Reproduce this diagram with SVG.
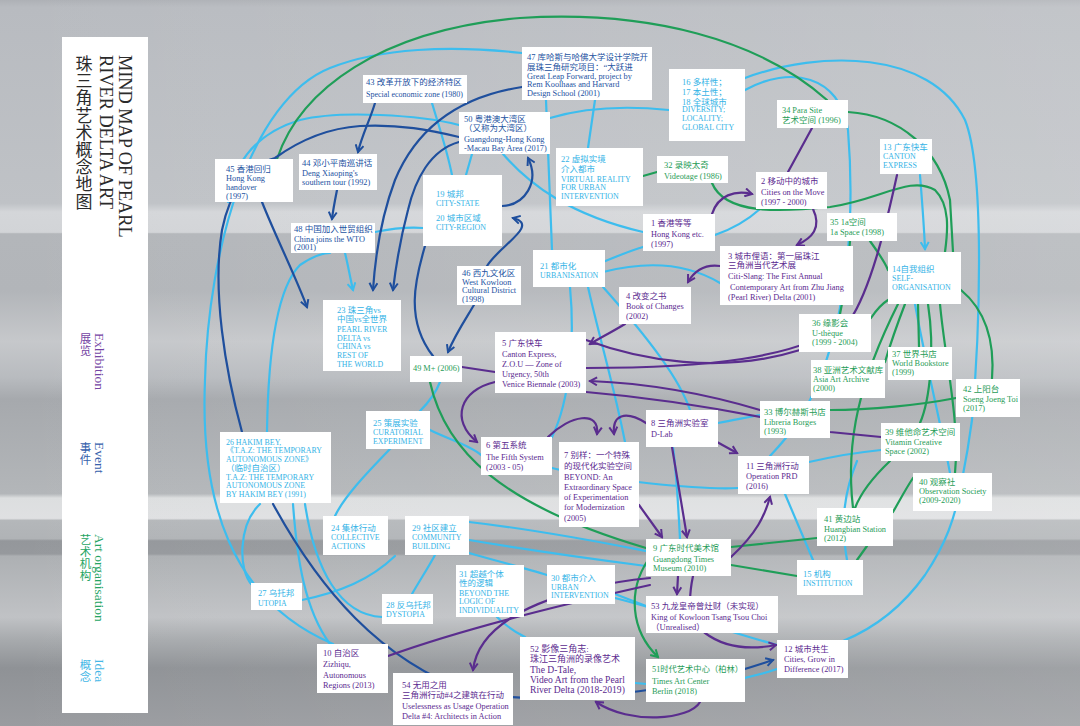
<svg xmlns="http://www.w3.org/2000/svg" width="1080" height="726" viewBox="0 0 1080 726">
<defs>
<linearGradient id="bg" x1="0" y1="0" x2="0" y2="1">
<stop offset="0" stop-color="#aeb1b6"/>
<stop offset="0.01" stop-color="#b8bbc0"/>
<stop offset="0.28" stop-color="#bfc2c6"/>
<stop offset="0.292" stop-color="#d4d6d9"/>
<stop offset="0.32" stop-color="#d2d4d7"/>
<stop offset="0.322" stop-color="#b3b6ba"/>
<stop offset="0.40" stop-color="#b2b5b9"/>
<stop offset="0.47" stop-color="#c6c8cb"/>
<stop offset="0.52" stop-color="#b8bbbf"/>
<stop offset="0.55" stop-color="#a6a9ad"/>
<stop offset="0.68" stop-color="#b3b6b9"/>
<stop offset="0.686" stop-color="#dcdedf"/>
<stop offset="0.714" stop-color="#dfe0e2"/>
<stop offset="0.717" stop-color="#b4b7ba"/>
<stop offset="0.742" stop-color="#b0b3b6"/>
<stop offset="0.745" stop-color="#94979b"/>
<stop offset="0.763" stop-color="#96999d"/>
<stop offset="0.766" stop-color="#adb0b3"/>
<stop offset="0.85" stop-color="#c0c2c5"/>
<stop offset="0.88" stop-color="#a8abae"/>
<stop offset="0.92" stop-color="#8f9296"/>
<stop offset="1" stop-color="#9a9ca0"/>
</linearGradient>
<linearGradient id="sheen" x1="0" y1="0" x2="1" y2="0">
<stop offset="0" stop-color="#ffffff" stop-opacity="0"/>
<stop offset="1" stop-color="#ffffff" stop-opacity="0.15"/>
</linearGradient>
<marker id="mp" viewBox="-1 -1 10 10" refX="7" refY="4" markerWidth="10" markerHeight="10" markerUnits="userSpaceOnUse" orient="auto"><path d="M0,0 L7,4 L0,8" fill="none" stroke="#5a2d8e" stroke-width="2"/></marker>
<marker id="md" viewBox="-1 -1 10 10" refX="7" refY="4" markerWidth="10" markerHeight="10" markerUnits="userSpaceOnUse" orient="auto"><path d="M0,0 L7,4 L0,8" fill="none" stroke="#1f4f9d" stroke-width="2"/></marker>
<marker id="mg" viewBox="-1 -1 10 10" refX="7" refY="4" markerWidth="10" markerHeight="10" markerUnits="userSpaceOnUse" orient="auto"><path d="M0,0 L7,4 L0,8" fill="none" stroke="#1f9e58" stroke-width="2"/></marker>
<marker id="ml" viewBox="-1 -1 10 10" refX="7" refY="4" markerWidth="10" markerHeight="10" markerUnits="userSpaceOnUse" orient="auto"><path d="M0,0 L7,4 L0,8" fill="none" stroke="#3dbdee" stroke-width="2"/></marker>
</defs>
<style>
.box{fill:#ffffff}
.t{font-family:"Liberation Serif","Noto Sans CJK SC",serif;font-size:8.3px}
.h{font-size:8.5px}
.u{font-size:7.9px}
.pu{fill:#5b2a8f}.db{fill:#23529f}.gr{fill:#1f9c57}.lb{fill:#34b3e6}
.c{fill:none;stroke-width:2.2;stroke-linecap:round}
.cp{stroke:#5a2d8e}.cd{stroke:#1f4f9d}.cg{stroke:#1f9e58}.cl{stroke:#3dbdee}
.ttl{font-family:"Liberation Serif",serif;font-size:18.3px;fill:#2b2b2b}
.cjt{font-family:"Noto Sans CJK SC",sans-serif;font-size:17px;fill:#2b2b2b;writing-mode:vertical-rl;letter-spacing:0.2px}
.lg{font-family:"Liberation Serif",serif;font-size:13.5px}
.lgc{font-family:"Noto Sans CJK SC",sans-serif;font-size:11.5px;writing-mode:vertical-rl;letter-spacing:0.5px}
</style>
<rect x="0" y="0" width="1080" height="726" fill="url(#bg)"/>
<rect x="0" y="0" width="1080" height="726" fill="url(#sheen)"/>

<g id="panel">
<rect x="62" y="37" width="86" height="676" fill="#ffffff"/>
<text class="ttl" transform="translate(118.5,55) rotate(90)">MIND MAP OF PEARL</text>
<text class="ttl" transform="translate(99.5,55) rotate(90)">RIVER DELTA ART</text>
<text class="cjt" x="84" y="55">珠三角艺术概念地图</text>
<text class="lg" fill="#7444a3" transform="translate(95,333) rotate(90)">Exhibition</text>
<text class="lgc" fill="#7444a3" x="85.5" y="333">展览</text>
<text class="lg" fill="#3560ab" transform="translate(95,442) rotate(90)">Event</text>
<text class="lgc" fill="#3560ab" x="85.5" y="442">事件</text>
<text class="lg" fill="#25a463" transform="translate(95,534) rotate(90)">Art organisation</text>
<text class="lgc" fill="#25a463" x="85.5" y="534">艺术机构</text>
<text class="lg" fill="#45b7e6" transform="translate(95,659) rotate(90)">Idea</text>
<text class="lgc" fill="#45b7e6" x="85.5" y="659">概念</text>
</g>

<g id="connectors">
<!-- light blue -->
<path class="c cl" d="M333,644 C230,600 200,500 205,380 C208,250 250,100 330,68 C380,48 450,45 522,53"/>
<path class="c cl" d="M228,202 C232,170 250,135 300,120 C340,110 420,115 459,125"/>
<path class="c cl" d="M550,118 C590,106 630,106 669,110"/>
<path class="c cl" d="M267,432 C268,360 275,290 300,265 C315,255 325,253 330,253"/>
<path class="c cl" d="M432,103 C440,130 447,150 452,175"/>
<path class="c cl" d="M466,175 L472,154"/>
<path class="c cl" d="M503,154 C530,185 570,215 643,232"/>
<path class="c cl" d="M546,100 C548,150 550,200 552,250"/>
<path class="c cl" d="M595,100 L588,148"/>
<path class="c cl" d="M345,253 C348,265 350,277 353,290" marker-end="url(#ml)"/>
<path class="c cl" d="M375,232 C395,228 410,227 423,228"/>
<path class="c cl" d="M603,262 C620,255 632,250 643,247"/>
<path class="c cl" d="M603,272 C650,260 690,265 720,283"/>
<path class="c cl" d="M715,235 C735,228 750,218 760,209"/>
<path class="c cl" d="M745,78 C820,50 930,50 965,120 C985,170 980,330 972,420 C968,450 965,465 962,480 C955,520 945,545 925,575 C900,610 870,630 843,641"/>
<path class="c cl" d="M745,90 C790,65 840,75 848,130 C856,230 845,330 810,400 C795,430 780,445 770,456"/>
<path class="c cl" d="M920,175 C922,200 924,225 925,249" marker-end="url(#ml)"/>
<path class="c cl" d="M915,304 C925,360 940,420 950,473"/>
<path class="c cl" d="M785,494 L813,560"/>
<path class="c cl" d="M552,468 C600,480 700,490 738,488"/>
<path class="c cl" d="M809,462 C840,455 860,452 881,450"/>
<path class="c cl" d="M718,423 C735,420 748,417 760,415"/>
<path class="c cl" d="M570,287 C575,340 570,400 552,437"/>
<path class="c cl" d="M588,287 C600,340 615,390 625,442"/>
<path class="c cl" d="M603,287 C650,340 680,380 690,410"/>
<path class="c cl" d="M673,447 C676,470 678,500 680,539"/>
<path class="c cl" d="M440,382 C435,395 428,403 420,411"/>
<path class="c cl" d="M390,449 C370,470 345,495 335,516"/>
<path class="c cl" d="M430,430 C450,440 470,445 481,455"/>
<path class="c cl" d="M260,504 C238,525 238,570 252,585"/>
<path class="c cl" d="M293,504 C297,560 305,610 330,644"/>
<path class="c cl" d="M305,504 C315,570 340,615 382,617"/>
<path class="c cl" d="M302,600 C340,592 370,580 395,556"/>
<path class="c cl" d="M412,594 C420,580 428,568 435,555"/>
<path class="c cl" d="M469,522 C540,530 600,542 646,551"/>
<path class="c cl" d="M469,540 C540,552 600,560 646,566"/>
<path class="c cl" d="M469,553 C500,562 525,568 547,575"/>
<path class="c cl" d="M615,594 L646,606"/>
<path class="c cl" d="M497,617 C505,625 515,632 525,637"/>
<path class="c cl" d="M615,598 C680,615 740,635 777,645"/>
<path class="c cl" d="M635,683 C700,690 745,680 777,669"/>
<path class="c cl" d="M847,560 C840,520 845,490 857,461"/>
<!-- green -->
<path class="c cg" d="M277,159 C300,90 380,30 520,18 C650,10 760,40 827,100"/>
<path class="c cg" d="M657,172 L643,176"/>
<path class="c cg" d="M712,183 C725,215 780,212 830,207 C880,200 910,175 935,190 C950,205 948,230 945,252"/>
<path class="c cg" d="M848,112 C900,115 940,150 950,200 L953,252"/>
<path class="c cg" d="M850,241 C848,270 845,290 840,314"/>
<path class="c cg" d="M870,241 C880,255 885,262 888,270"/>
<path class="c cg" d="M888,300 C880,305 875,312 871,318"/>
<path class="c cg" d="M918,304 L919,347"/>
<path class="c cg" d="M905,304 C895,330 890,345 885,362"/>
<path class="c cg" d="M961,290 C985,310 995,340 992,379"/>
<path class="c cg" d="M940,304 C945,360 960,420 955,473"/>
<path class="c cg" d="M928,304 C935,350 930,400 920,423"/>
<path class="c cg" d="M898,304 C860,380 845,440 853,508"/>
<path class="c cg" d="M830,410 C870,410 920,405 956,398"/>
<path class="c cg" d="M890,461 C870,480 860,495 855,508"/>
<path class="c cg" d="M893,512 C900,500 905,490 913,478"/>
<path class="c cg" d="M857,560 L867,546"/>
<path class="c cg" d="M731,547 C770,543 800,540 817,538"/>
<path class="c cg" d="M731,565 C760,570 780,573 797,576"/>
<path class="c cg" d="M648,560 C628,590 630,630 658,657" marker-end="url(#mg)"/>
<path class="c cg" d="M430,382 C445,450 500,505 646,548"/>
<!-- dark blue -->
<path class="c cd" d="M375,103 C370,120 362,135 358,152" marker-end="url(#md)"/>
<path class="c cd" d="M337,190 C335,200 333,210 332,219" marker-end="url(#md)"/>
<path class="c cd" d="M262,202 C275,235 295,275 307,307" marker-end="url(#md)"/>
<path class="c cd" d="M242,432 C225,370 212,290 222,230 C230,190 250,165 275,158 C300,140 330,128 360,126 C400,124 430,130 459,137"/>
<path class="c cd" d="M522,87 C470,95 420,120 395,180 C380,220 375,260 373,290" marker-end="url(#md)"/>
<path class="c cd" d="M459,142 C430,150 415,180 408,210 C400,240 396,265 393,290" marker-end="url(#md)"/>
<path class="c cd" d="M474,305 C465,320 455,335 448,352" marker-end="url(#md)"/>
<path class="c cd" d="M487,266 C500,245 540,225 513,218" marker-end="url(#md)"/>
<path class="c cd" d="M502,206 C525,205 540,182 528,158" marker-end="url(#md)"/>
<path class="c cd" d="M433,356 C405,320 415,280 425,246"/>
<path class="c cd" d="M273,504 C320,590 380,660 470,692 C540,705 620,695 680,685 C720,678 748,668 773,660" marker-end="url(#md)"/>
<!-- purple -->
<path class="c cp" d="M712,214 C718,195 735,190 752,194" marker-end="url(#mp)"/>
<path class="c cp" d="M813,209 C822,228 812,238 797,245" marker-end="url(#mp)"/>
<path class="c cp" d="M812,128 L788,172"/>
<path class="c cp" d="M586,368 C700,368 800,360 850,320 C870,290 885,230 897,175"/>
<path class="c cp" d="M586,340 C640,360 720,375 800,350"/>
<path class="c cp" d="M760,410 C700,392 640,383 590,381" marker-end="url(#mp)"/>
<path class="c cp" d="M586,392 C680,400 770,418 830,432 L881,437"/>
<path class="c cp" d="M625,324 C610,333 600,338 590,344" marker-end="url(#mp)"/>
<path class="c cp" d="M720,266 C705,264 695,270 688,282" marker-end="url(#mp)"/>
<path class="c cp" d="M462,367 L495,372"/>
<path class="c cp" d="M495,382 C460,390 450,420 477,442" marker-end="url(#mp)"/>
<path class="c cp" d="M548,437 C570,415 600,410 597,434" marker-end="url(#mp)"/>
<path class="c cp" d="M646,423 C625,410 612,415 614,434" marker-end="url(#mp)"/>
<path class="c cp" d="M717,442 L737,453" marker-end="url(#mp)"/>
<path class="c cp" d="M672,447 L687,537" marker-end="url(#mp)"/>
<path class="c cp" d="M639,505 L662,537" marker-end="url(#mp)"/>
<path class="c cp" d="M731,557 C757,533 765,515 770,497" marker-end="url(#mp)"/>
<path class="c cp" d="M678,576 L677,594" marker-end="url(#mp)"/>
<path class="c cp" d="M693,576 C688,600 688,622 705,633 C725,648 750,650 776,645" marker-end="url(#mp)"/>
<path class="c cp" d="M650,578 C580,585 480,610 473,670" marker-end="url(#mp)"/>
<path class="c cp" d="M650,585 C560,605 460,630 388,656"/>
<path class="c cp" d="M700,702 C690,720 630,725 596,702" marker-end="url(#mp)"/>
</g>

<g id="n45"><rect class="box" x="215" y="159" width="78" height="43"/>
<text class="t h db" x="226" y="172">45 香港回归</text><text class="t db" x="226" y="181">Hong Kong</text><text class="t db" x="226" y="190">handover</text><text class="t db" x="226" y="199">(1997)</text></g>
<g id="n44"><rect class="box" x="299" y="154" width="78" height="36"/>
<text class="t h db" x="302" y="166">44 邓小平南巡讲话</text><text class="t db" x="302" y="176">Deng Xiaoping's</text><text class="t db" x="302" y="185">southern tour (1992)</text></g>
<g id="n43"><rect class="box" x="363" y="75" width="104" height="28"/>
<text class="t h db" x="366" y="85">43 改革开放下的经济特区</text><text class="t db" x="366" y="97" textLength="97" lengthAdjust="spacingAndGlyphs">Special economic zone (1980)</text></g>
<g id="n48"><rect class="box" x="291" y="223" width="84" height="30"/>
<text class="t h db" x="294" y="232">48 中国加入世贸组织</text><text class="t db" x="294" y="242">China joins the WTO</text><text class="t db" x="294" y="250">(2001)</text></g>
<g id="n47"><rect class="box" x="522" y="47" width="130" height="53"/>
<text class="t h db" x="527" y="60" textLength="121" lengthAdjust="spacingAndGlyphs">47 库哈斯与哈佛大学设计学院开</text><text class="t h db" x="527" y="70">展珠三角研究项目：“大跃进</text><text class="t db" x="527" y="79">Great Leap Forward, project by</text><text class="t db" x="527" y="87">Rem Koolhaas and Harvard</text><text class="t db" x="527" y="96">Design School (2001)</text></g>
<g id="n50"><rect class="box" x="459" y="112" width="91" height="42"/>
<text class="t h db" x="464" y="122">50 粤港澳大湾区</text><text class="t h db" x="464" y="131">（又称为大湾区）</text><text class="t db" x="464" y="142">Guangdong-Hong Kong</text><text class="t db" x="464" y="151">-Macau Bay Area (2017)</text></g>
<g id="n16"><rect class="box" x="669" y="69" width="76" height="72"/>
<text class="t h lb" x="682" y="85">16 多样性；</text><text class="t h lb" x="682" y="95">17 本土性；</text><text class="t h lb" x="682" y="105">18 全球城市</text><text class="t u lb" x="682" y="112">DIVERSITY;</text><text class="t u lb" x="682" y="121">LOCALITY;</text><text class="t u lb" x="682" y="130">GLOBAL CITY</text></g>
<g id="n22"><rect class="box" x="556" y="148" width="87" height="58"/>
<text class="t h lb" x="561" y="162">22 虚拟实境</text><text class="t h lb" x="561" y="172">介入都市</text><text class="t u lb" x="561" y="182">VIRTUAL REALITY</text><text class="t u lb" x="561" y="190">FOR URBAN</text><text class="t u lb" x="561" y="199">INTERVENTION</text></g>
<g id="n32"><rect class="box" x="657" y="156" width="71" height="27"/>
<text class="t h gr" x="664" y="168">32 录映太奇</text><text class="t gr" x="664" y="179">Videotage (1986)</text></g>
<g id="n1"><rect class="box" x="643" y="214" width="72" height="37"/>
<text class="t h pu" x="651" y="226">1 香港等等</text><text class="t pu" x="651" y="237">Hong Kong etc.</text><text class="t pu" x="651" y="247">(1997)</text></g>
<g id="n2"><rect class="box" x="756" y="172" width="71" height="37"/>
<text class="t h pu" x="761" y="184">2 移动中的城市</text><text class="t pu" x="761" y="195">Cities on the Move</text><text class="t pu" x="761" y="205">(1997 - 2000)</text></g>
<g id="n34"><rect class="box" x="777" y="100" width="71" height="28"/>
<text class="t gr" x="782" y="113">34 Para Site</text><text class="t h gr" x="782" y="123">艺术空间 (1996)</text></g>
<g id="n13"><rect class="box" x="880" y="139" width="52" height="35"/>
<text class="t h lb" x="883" y="150">13 广东快车</text><text class="t u lb" x="883" y="159">CANTON</text><text class="t u lb" x="883" y="168">EXPRESS</text></g>
<g id="n35"><rect class="box" x="827" y="213" width="70" height="28"/>
<text class="t h gr" x="830" y="225">35 1a空间</text><text class="t gr" x="830" y="235">1a Space (1998)</text></g>
<g id="n3"><rect class="box" x="720" y="246" width="133" height="59"/>
<text class="t h pu" x="728" y="259">3 城市俚语：第一届珠江</text><text class="t h pu" x="728" y="268">三角洲当代艺术展</text><text class="t pu" x="728" y="279">Citi-Slang: The First Annual</text><text class="t pu" x="730" y="290">Contemporary Art from Zhu Jiang</text><text class="t pu" x="728" y="300">(Pearl River) Delta (2001)</text></g>
<g id="n14"><rect class="box" x="888" y="252" width="73" height="52"/>
<text class="t h lb" x="892" y="272">14自我组织</text><text class="t u lb" x="892" y="281">SELF-</text><text class="t u lb" x="892" y="290">ORGANISATION</text></g>
<g id="n36"><rect class="box" x="799" y="314" width="72" height="38"/>
<text class="t h gr" x="812" y="326">36 缘影会</text><text class="t gr" x="812" y="336">U-thèque</text><text class="t gr" x="812" y="345">(1999 - 2004)</text></g>
<g id="n37"><rect class="box" x="888" y="347" width="64" height="33"/>
<text class="t h gr" x="892" y="357">37 世界书店</text><text class="t gr" x="892" y="366">World Bookstore</text><text class="t gr" x="892" y="375">(1999)</text></g>
<g id="n38"><rect class="box" x="811" y="360" width="74" height="38"/>
<text class="t h gr" x="813" y="373">38 亚洲艺术文献库</text><text class="t gr" x="813" y="382">Asia Art Archive</text><text class="t gr" x="813" y="391">(2000)</text></g>
<g id="n42"><rect class="box" x="956" y="379" width="64" height="38"/>
<text class="t h gr" x="963" y="392">42 上阳台</text><text class="t gr" x="963" y="402">Soeng Joeng Toi</text><text class="t gr" x="963" y="411">(2017)</text></g>
<g id="n33"><rect class="box" x="760" y="401" width="70" height="37"/>
<text class="t h gr" x="764" y="415">33 博尔赫斯书店</text><text class="t gr" x="764" y="425">Libreria Borges</text><text class="t gr" x="764" y="434">(1993)</text></g>
<g id="n39"><rect class="box" x="881" y="423" width="79" height="38"/>
<text class="t h gr" x="885" y="435">39 维他命艺术空间</text><text class="t gr" x="885" y="445">Vitamin Creative</text><text class="t gr" x="885" y="454">Space (2002)</text></g>
<g id="n11"><rect class="box" x="738" y="456" width="71" height="38"/>
<text class="t h pu" x="746" y="469">11 三角洲行动</text><text class="t pu" x="746" y="479">Operation PRD</text><text class="t pu" x="746" y="489">(2016)</text></g>
<g id="n40"><rect class="box" x="913" y="473" width="79" height="38"/>
<text class="t h gr" x="919" y="485">40 观察社</text><text class="t gr" x="919" y="494">Observation Society</text><text class="t gr" x="919" y="503">(2009-2020)</text></g>
<g id="n41"><rect class="box" x="817" y="508" width="76" height="38"/>
<text class="t h gr" x="824" y="522">41 黄边站</text><text class="t gr" x="824" y="532">Huangbian Station</text><text class="t gr" x="824" y="541">(2012)</text></g>
<g id="n15"><rect class="box" x="797" y="560" width="66" height="35"/>
<text class="t h lb" x="803" y="577">15 机构</text><text class="t u lb" x="803" y="586">INSTITUTION</text></g>
<g id="n12"><rect class="box" x="777" y="640" width="71" height="38"/>
<text class="t h pu" x="784" y="652">12 城市共生</text><text class="t pu" x="784" y="662">Cities, Grow in</text><text class="t pu" x="784" y="672">Difference (2017)</text></g>
<g id="n53"><rect class="box" x="646" y="596" width="132" height="37"/>
<text class="t h pu" x="651" y="609">53 九龙皇帝曾灶财（未实现）</text><text class="t pu" x="651" y="620">King of Kowloon Tsang Tsou Choi</text><text class="t h pu" x="651" y="630">（Unrealised）</text></g>
<g id="n9"><rect class="box" x="646" y="539" width="85" height="37"/>
<text class="t h gr" x="653" y="551">9 广东时代美术馆</text><text class="t gr" x="653" y="562">Guangdong Times</text><text class="t gr" x="653" y="571">Museum (2010)</text></g>
<g id="n51"><rect class="box" x="646" y="659" width="99" height="43"/>
<text class="t h gr" x="652" y="672" textLength="91" lengthAdjust="spacingAndGlyphs">51时代艺术中心（柏林）</text><text class="t gr" x="652" y="684">Times Art Center</text><text class="t gr" x="652" y="694">Berlin (2018)</text></g>
<g id="n52"><rect class="box" x="520" y="637" width="115" height="63"/>
<text class="t pu" style="font-size:9px" x="530" y="652">52 影像三角志:</text><text class="t pu" style="font-size:9px" x="530" y="662">珠江三角洲的录像艺术</text><text class="t pu" style="font-size:9.6px" x="530" y="673"> The D-Tale,</text><text class="t pu" style="font-size:9.6px" x="530" y="683">Video Art from the Pearl</text><text class="t pu" style="font-size:9.6px" x="530" y="693">River Delta (2018-2019)</text></g>
<g id="n54"><rect class="box" x="393" y="673" width="120" height="52"/>
<text class="t h pu" x="402" y="688">54 无用之用</text><text class="t h pu" x="402" y="698">三角洲行动#4之建筑在行动</text><text class="t pu" x="402" y="709">Uselessness as Usage Operation</text><text class="t pu" x="402" y="719">Delta #4: Architects in Action</text></g>
<g id="n30"><rect class="box" x="547" y="565" width="68" height="39"/>
<text class="t h lb" x="551" y="581">30 都市介入</text><text class="t u lb" x="551" y="590">URBAN</text><text class="t u lb" x="551" y="598">INTERVENTION</text></g>
<g id="n31"><rect class="box" x="456" y="565" width="68" height="52"/>
<text class="t h lb" x="459" y="577">31 超越个体</text><text class="t h lb" x="459" y="586">性的逻辑</text><text class="t u lb" x="459" y="596">BEYOND THE</text><text class="t u lb" x="459" y="604">LOGIC OF</text><text class="t u lb" x="459" y="613">INDIVIDUALITY</text></g>
<g id="n28"><rect class="box" x="382" y="594" width="51" height="30"/>
<text class="t h lb" x="386" y="608">28 反乌托邦</text><text class="t u lb" x="386" y="617">DYSTOPIA</text></g>
<g id="n27"><rect class="box" x="251" y="583" width="51" height="27"/>
<text class="t h lb" x="258" y="596">27 乌托邦</text><text class="t u lb" x="258" y="606">UTOPIA</text></g>
<g id="n10"><rect class="box" x="317" y="644" width="71" height="49"/>
<text class="t h pu" x="323" y="656">10 自治区</text><text class="t pu" x="323" y="667">Zizhiqu,</text><text class="t pu" x="323" y="678">Autonomous</text><text class="t pu" x="323" y="688">Regions (2013)</text></g>
<g id="n29"><rect class="box" x="405" y="516" width="64" height="39"/>
<text class="t h lb" x="412" y="531">29 社区建立</text><text class="t u lb" x="412" y="540">COMMUNITY</text><text class="t u lb" x="412" y="549">BUILDING</text></g>
<g id="n24"><rect class="box" x="323" y="516" width="65" height="39"/>
<text class="t h lb" x="331" y="531">24 集体行动</text><text class="t u lb" x="331" y="540">COLLECTIVE</text><text class="t u lb" x="331" y="549">ACTIONS</text></g>
<g id="n26"><rect class="box" x="220" y="432" width="111" height="71"/>
<text class="t u lb" x="226" y="445">26 HAKIM BEY,</text><text class="t u lb" x="226" y="453">《T.A.Z: THE TEMPORARY</text><text class="t u lb" x="226" y="462">AUTONOMOUS ZONE》</text><text class="t h lb" x="226" y="471">（临时自治区）</text><text class="t u lb" x="226" y="480">T.A.Z: THE TEMPORARY</text><text class="t u lb" x="226" y="488">AUTONOMOUS ZONE</text><text class="t u lb" x="226" y="497">BY HAKIM BEY (1991)</text></g>
<g id="n25"><rect class="box" x="366" y="411" width="64" height="38"/>
<text class="t h lb" x="373" y="426">25 策展实验</text><text class="t u lb" x="373" y="435">CURATORIAL</text><text class="t u lb" x="373" y="444">EXPERIMENT</text></g>
<g id="n6"><rect class="box" x="481" y="437" width="71" height="38"/>
<text class="t h pu" x="486" y="448">6 第五系统</text><text class="t pu" x="486" y="460">The Fifth System</text><text class="t pu" x="486" y="470">(2003 - 05)</text></g>
<g id="n7"><rect class="box" x="559" y="442" width="80" height="85"/>
<text class="t h pu" x="564" y="458">7 别样：一个特殊</text><text class="t h pu" x="564" y="469">的现代化实验空间</text><text class="t pu" x="564" y="480">BEYOND: An</text><text class="t pu" x="564" y="490">Extraordinary Space</text><text class="t pu" x="564" y="500">of Experimentation</text><text class="t pu" x="564" y="510">for Modernization</text><text class="t pu" x="564" y="521">(2005)</text></g>
<g id="n8"><rect class="box" x="646" y="410" width="72" height="37"/>
<text class="t h pu" x="651" y="426">8 三角洲实验室</text><text class="t pu" x="651" y="437">D-Lab</text></g>
<g id="n5"><rect class="box" x="495" y="332" width="91" height="61"/>
<text class="t h pu" x="502" y="346">5 广东快车</text><text class="t pu" x="502" y="357">Canton Express,</text><text class="t pu" x="502" y="367">Z.O.U — Zone of</text><text class="t pu" x="502" y="377">Urgency, 50th</text><text class="t pu" x="502" y="387">Venice Biennale (2003)</text></g>
<g id="n4"><rect class="box" x="619" y="287" width="72" height="37"/>
<text class="t h pu" x="626" y="299">4 改变之书</text><text class="t pu" x="626" y="309">Book of Changes</text><text class="t pu" x="626" y="319">(2002)</text></g>
<g id="n21"><rect class="box" x="533" y="250" width="72" height="37"/>
<text class="t h lb" x="540" y="269">21 都市化</text><text class="t u lb" x="540" y="278">URBANISATION</text></g>
<g id="n46"><rect class="box" x="457" y="266" width="64" height="39"/>
<text class="t h db" x="462" y="276">46 西九文化区</text><text class="t db" x="462" y="285">West Kowloon</text><text class="t db" x="462" y="293">Cultural District</text><text class="t db" x="462" y="302">(1998)</text></g>
<g id="n49"><rect class="box" x="410" y="356" width="52" height="26"/>
<text class="t gr" x="413" y="371">49 M+ (2006)</text></g>
<g id="n23"><rect class="box" x="323" y="300" width="78" height="71"/>
<text class="t h lb" x="337" y="313">23 珠三角vs</text><text class="t h lb" x="337" y="322">中国vs全世界</text><text class="t u lb" x="337" y="332">PEARL RIVER</text><text class="t u lb" x="337" y="341">DELTA vs</text><text class="t u lb" x="337" y="349">CHINA vs</text><text class="t u lb" x="337" y="358">REST OF</text><text class="t u lb" x="337" y="367">THE WORLD</text></g>
<g id="n19"><rect class="box" x="423" y="175" width="79" height="71"/>
<text class="t h lb" x="436" y="197">19 城邦</text><text class="t u lb" x="436" y="206">CITY-STATE</text><text class="t h lb" x="436" y="221">20 城市区域</text><text class="t u lb" x="436" y="230">CITY-REGION</text></g>
</svg>
